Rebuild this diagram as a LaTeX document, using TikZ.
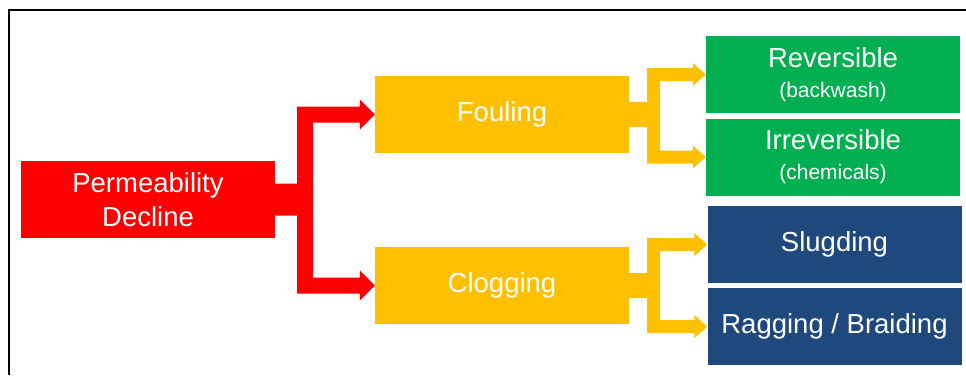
\documentclass[tikz,border=0pt]{standalone}
\usepackage{fontspec}
\setmainfont{Liberation Sans}
\usetikzlibrary{calc}
\definecolor{cred}{HTML}{FF0000}
\definecolor{cyellow}{HTML}{FFC000}
\definecolor{cgreen}{HTML}{00B050}
\definecolor{cblue}{HTML}{1F497D}
% #1 src, #2 top target, #3 bottom target, #4 colour, #5 stem half width,
% #6 bar offset, #7 branch half width, #8 head half width, #9 head length
\newcommand\branchconn[9]{%
  \fill[#4] let \p1=(#1.east), \p2=(#2.west), \p3=(#3.west) in
    ({\x1},{\y1+#5}) -- ({\x1+#6},{\y1+#5}) -- ({\x1+#6},{\y2+#7})
    -- ({\x2-#9},{\y2+#7}) -- ({\x2-#9},{\y2+#8}) -- (\x2,\y2)
    -- ({\x2-#9},{\y2-#8}) -- ({\x2-#9},{\y2-#7})
    -- ({\x1+#6+2*#7},{\y2-#7}) -- ({\x1+#6+2*#7},{\y3+#7})
    -- ({\x3-#9},{\y3+#7}) -- ({\x3-#9},{\y3+#8}) -- (\x3,\y3)
    -- ({\x3-#9},{\y3-#8}) -- ({\x3-#9},{\y3-#7})
    -- ({\x1+#6},{\y3-#7}) -- ({\x1+#6},{\y1-#5}) -- ({\x1},{\y1-#5}) -- cycle;}
\begin{document}
\begin{tikzpicture}[x=1pt,y=-1pt,
  box/.style={rectangle, inner sep=0pt, minimum width=254pt, minimum height=77pt,
    text=white, align=center, font=\fontsize{27.5}{34}\selectfont},
  small/.style={}]
\useasboundingbox (0,0) rectangle (966,375);
\draw[line width=2pt] (966,10) -- (9,10) -- (9,375);
\node[box, fill=cred] (perm) at (148,199.5) {Permeability\\Decline};
\node[box, fill=cyellow] (foul) at (502,114.5) {Fouling};
\node[box, fill=cyellow] (clog) at (502,285.5) {Clogging};
\node[box, fill=cgreen] (rev) at (833,74.5) {Reversible\\[-4pt]{\fontsize{21}{26}\selectfont (backwash)}};
\node[box, fill=cgreen] (irr) at (833,157) {Irreversible\\[-4pt]{\fontsize{21}{26}\selectfont (chemicals)}};
\node[box, fill=cblue] (slug) at (834.5,244.5) {Slugding};
\node[box, fill=cblue] (rag) at (834.5,326.5) {Ragging / Braiding};
\branchconn{perm}{foul}{clog}{cred}{16pt}{22pt}{8pt}{15pt}{15pt}
\branchconn{foul}{rev}{irr}{cyellow}{12.5pt}{18pt}{6.5pt}{11.5pt}{13pt}
\branchconn{clog}{slug}{rag}{cyellow}{12.5pt}{18pt}{6.5pt}{11.5pt}{13pt}
\end{tikzpicture}
\end{document}
